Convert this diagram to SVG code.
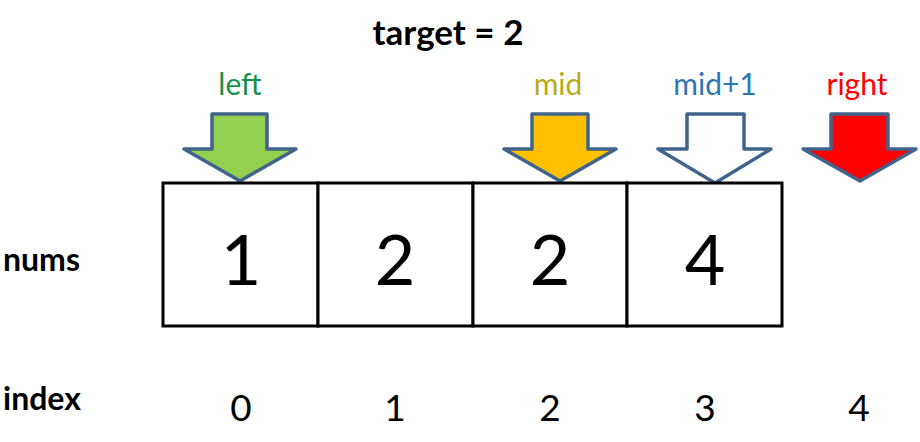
<svg xmlns="http://www.w3.org/2000/svg" width="920" height="442" viewBox="0 0 920 442">
<style>
text{font-family:Lato,"Liberation Sans",sans-serif}
.bold{font-weight:bold;fill:#000}
.ptr{font-size:30px;text-anchor:middle}
.arrow{stroke:#41648C;stroke-width:3.5;stroke-linejoin:round}
.cell{fill:#fff;stroke:#000;stroke-width:3}
.num{font-size:70px;text-anchor:middle;fill:#000}
.idx{font-size:37px;text-anchor:middle;fill:#000}
</style>
<rect width="920" height="442" fill="#fff"/>
<text id="title" class="bold" x="448" y="45" font-size="35" text-anchor="middle">target = 2</text>
<text id="label-nums" class="bold" x="3" y="271" font-size="32">nums</text>
<text id="label-index" class="bold" x="3" y="410" font-size="32">index</text>
<g id="pointer-left">
<text class="ptr" x="240" y="95" fill="#15924A">left</text>
<path class="arrow" fill="#92D050" d="M212,114 H267 V149 H296 L240,181 L184,149 H212 Z"/>
</g>
<g id="pointer-mid">
<text class="ptr" x="558" y="95" fill="#B8AC18">mid</text>
<path class="arrow" fill="#FFC000" d="M532,114 H588 V149 H616 L560,181 L504,149 H532 Z"/>
</g>
<g id="pointer-mid1">
<text class="ptr" x="715" y="95" fill="#2E75B6">mid+1</text>
<path class="arrow" fill="#fff" d="M687,114 H744 V149 H771 L715,183 L658,149 H687 Z"/>
</g>
<g id="pointer-right">
<text class="ptr" x="857" y="95" fill="#FF0000">right</text>
<path class="arrow" fill="#FF0000" d="M831,114 H888 V149 H916 L860,181 L803,149 H831 Z"/>
</g>
<g id="cell-0"><rect class="cell" x="163" y="183" width="155" height="143"/><text class="num" x="241" y="285">1</text></g>
<g id="cell-1"><rect class="cell" x="318" y="183" width="155" height="143"/><text class="num" x="395" y="285">2</text></g>
<g id="cell-2"><rect class="cell" x="473" y="183" width="154" height="143"/><text class="num" x="550" y="285">2</text></g>
<g id="cell-3"><rect class="cell" x="627" y="183" width="155" height="143"/><text class="num" x="705" y="285">4</text></g>
<g id="indices">
<text class="idx" x="241" y="421">0</text>
<text class="idx" x="395" y="421">1</text>
<text class="idx" x="550" y="421">2</text>
<text class="idx" x="705" y="421">3</text>
<text class="idx" x="859" y="421">4</text>
</g>
</svg>
